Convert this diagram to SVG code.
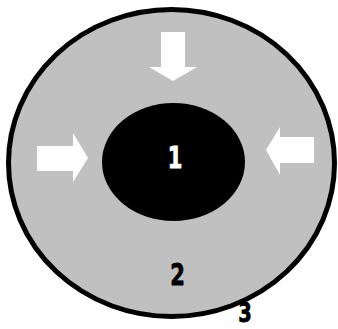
<svg xmlns="http://www.w3.org/2000/svg" width="338" height="329" viewBox="0 0 338 329">
<style>
.lbl{font-family:"DejaVu Sans Condensed","Liberation Sans",sans-serif;font-weight:bold;font-size:30px;text-anchor:middle;stroke-width:0.8}
.arr{fill:#ffffff}
</style>
<rect width="338" height="329" fill="#ffffff"/>
<g id="node3">
<ellipse cx="171.5" cy="163" rx="163" ry="153.5" fill="#c0c0c0" stroke="#000000" stroke-width="5"/>
<text class="lbl" x="245" y="322" fill="#000000" stroke="#000000" style="font-size:27px" transform="translate(245 0) scale(0.8 1) translate(-245 0)">3</text>
</g>
<g id="node2">
<text class="lbl" x="177.5" y="285" fill="#000000" stroke="#000000" transform="translate(177.5 0) scale(0.78 1) translate(-177.5 0)">2</text>
</g>
<g id="node1">
<ellipse cx="173.5" cy="162" rx="71.5" ry="59" fill="#000000"/>
<text class="lbl" x="175" y="168" fill="#ffffff" stroke="#ffffff" transform="translate(175 0) scale(0.78 1) translate(-175 0)">1</text>
</g>
<g id="connectors">
<polygon class="arr" points="161,32 185,32 185,67 197,67 173,81 149,67 161,67"/>
<polygon class="arr" points="37,146 73,146 73,133 88,158 73,182 73,171 37,171"/>
<polygon class="arr" points="314,137 280,137 280,127 266,150 280,175 280,163 314,163"/>
</g>
</svg>
